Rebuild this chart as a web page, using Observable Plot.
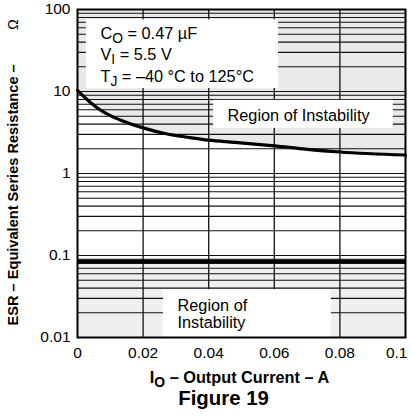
<!DOCTYPE html>
<html>
<head>
<meta charset="utf-8">
<script src="https://cdn.jsdelivr.net/npm/d3@7"></script>
<script src="https://cdn.jsdelivr.net/npm/@observablehq/plot@0.6"></script>
<style>
  html, body { margin: 0; padding: 0; background: #fff; }
</style>
</head>
<body>
<div id="chart"></div>
<script>
// ---- data ----
const currentA = [0, 0.004, 0.008, 0.013, 0.02, 0.027, 0.034, 0.04, 0.048, 0.06, 0.07, 0.08, 0.1];
const esrOhm   = [10.3, 7.3, 5.6, 4.5, 3.6, 3.05, 2.75, 2.55, 2.4, 2.17, 1.97, 1.83, 1.68];
const lowerStableEsr = 0.085;

const xDomain = [0, 0.1];
const yDomain = [0.01, 100];
const xTicks = [0, 0.02, 0.04, 0.06, 0.08, 0.1];
const xTickLabels = ["0", "0.02", "0.04", "0.06", "0.08", "0.1"];
const yTicks = [0.01, 0.1, 1, 10, 100];
const yTickLabels = ["0.01", "0.1", "1", "10", "100"];
const yGrid = [0.02,0.03,0.04,0.05,0.06,0.07,0.08,0.09,0.1,
               0.2,0.3,0.4,0.5,0.6,0.7,0.8,0.9,1,
               2,3,4,5,6,7,8,9,10,
               20,30,40,50,60,70,80,90];
const xGrid = [0.02, 0.04, 0.06, 0.08];

// white label boxes (data units)
const boxX1 = [0.0027, 0.0415, 0.0262];
const boxX2 = [0.0613, 0.0963, 0.0774];
const boxY1 = [10.9, 3.55, 0.01];
const boxY2 = [75, 7.8, 0.0383];

// annotations (data units)
const noteText   = ["C_{O} = 0.47 µF", "V_{I} = 5.5 V", "T_{J} = –40 °C to 125°C", "Region of Instability", "Region of", "Instability"];
const noteX      = [0.007, 0.007, 0.007, 0.0674, 0.0305, 0.0305];
const noteY      = [51, 27.7, 15.3, 5.1, 0.0244, 0.0151];
const noteAnchor = ["start", "start", "start", "middle", "start", "start"];

// ---- build tables ----
const curve = currentA.map((x, i) => ({x, esr: esrOhm[i]}));
const band = xDomain.map(x => ({x}));
const boxes = boxX1.map((x1, i) => ({x1, x2: boxX2[i], y1: boxY1[i], y2: boxY2[i]}));
const notes = noteText.map((t, i) => ({t, x: noteX[i], y: noteY[i], a: noteAnchor[i]}));
const lastTick = xTicks[xTicks.length - 1];

const FONT = "'Liberation Sans', Arial, Helvetica, sans-serif";

const chart = Plot.plot({
  width: 412,
  height: 417,
  marginTop: 9,
  marginLeft: 77,
  marginRight: 7,
  marginBottom: 80,
  style: {fontFamily: FONT, fontSize: "15.5px", color: "black", background: "white"},
  x: {domain: xDomain},
  y: {type: "log", domain: yDomain},
  marks: [
    // shaded regions of instability
    Plot.areaY(curve, {x: "x", y1: "esr", y2: yDomain[1], fill: "#e9e9e9", curve: "monotone-x"}),
    Plot.areaY(band, {x: "x", y1: yDomain[0], y2: lowerStableEsr, fill: "#efefef"}),
    // grid
    Plot.ruleY(yGrid, {stroke: "#111", strokeWidth: 1.1}),
    Plot.ruleX(xGrid, {stroke: "#111", strokeWidth: 1.3}),
    // white label boxes
    Plot.rect(boxes, {x1: "x1", x2: "x2", y1: "y1", y2: "y2", fill: "white"}),
    // curves
    Plot.line(curve, {x: "x", y: "esr", stroke: "black", strokeWidth: 3.2, curve: "monotone-x"}),
    Plot.ruleY([lowerStableEsr], {stroke: "black", strokeWidth: 3.5}),
    Plot.frame({stroke: "black", strokeWidth: 2}),
    // axes
    Plot.axisX({ticks: xTicks.filter(d => d !== lastTick), tickSize: 0, tickPadding: 9, label: null,
                tickFormat: d => xTickLabels[xTicks.indexOf(d)]}),
    Plot.axisX({ticks: [lastTick], tickSize: 0, tickPadding: 9, label: null, textAnchor: "end", dx: 2,
                tickFormat: d => xTickLabels[xTicks.indexOf(d)]}),
    Plot.axisY({ticks: yTicks, tickSize: 0, tickPadding: 7, label: null,
                tickFormat: d => yTickLabels[yTicks.indexOf(d)]}),
    // annotations
    Plot.text(notes.filter(d => d.a === "start"), {x: "x", y: "y", text: "t", textAnchor: "start", fontSize: 16.3, fill: "black"}),
    Plot.text(notes.filter(d => d.a === "middle"), {x: "x", y: "y", text: "t", textAnchor: "middle", fontSize: 16.3, fill: "black"}),
    // axis titles
    Plot.text(["I_{O} – Output Current – A"], {frameAnchor: "bottom", dx: -2, dy: 45, fontSize: 16.3, fontWeight: "bold", fill: "black"}),
    Plot.text(["Figure 19"], {frameAnchor: "bottom", dx: -18, dy: 67, fontSize: 20.4, fontWeight: "bold", fill: "black"}),
    Plot.text(["ESR – Equivalent Series Resistance –"], {frameAnchor: "left", dx: -64, dy: 152, rotate: -90, textAnchor: "start", fontSize: 14.6, fontWeight: "bold", fill: "black"}),
    Plot.text(["Ω"], {frameAnchor: "left", dx: -64, dy: -149, rotate: -90, textAnchor: "middle", fontSize: 14, fill: "black"})
  ]
});

// subscripts: "_{X}" -> lowered, smaller tspan
chart.querySelectorAll("text, tspan").forEach(node => {
  if (node.children.length) return;
  const s = node.textContent;
  if (!s.includes("_{")) return;
  node.textContent = "";
  const ns = "http://www.w3.org/2000/svg";
  const re = /_\{([^}]*)\}/g;
  let last = 0, m, shifted = false;
  const add = (txt, sub) => {
    if (!txt) return;
    const t = document.createElementNS(ns, "tspan");
    t.textContent = txt;
    if (sub) { t.setAttribute("dy", "4"); t.setAttribute("font-size", "85%"); shifted = true; }
    else if (shifted) { t.setAttribute("dy", "-4"); shifted = false; }
    node.appendChild(t);
  };
  while ((m = re.exec(s))) { add(s.slice(last, m.index), false); add(m[1], true); last = re.lastIndex; }
  add(s.slice(last), false);
});

document.getElementById("chart").appendChild(chart);
</script>
</body>
</html>
